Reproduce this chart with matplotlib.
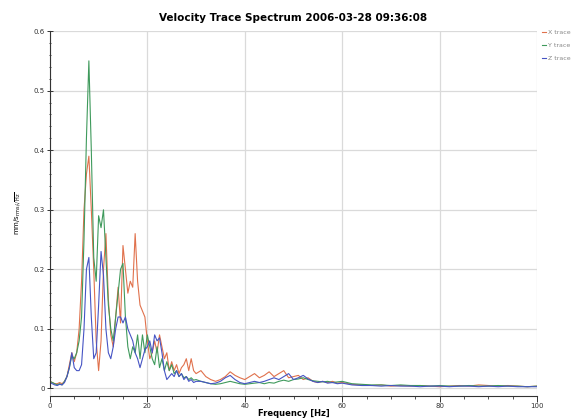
import numpy as np
import matplotlib
matplotlib.use("Agg")
import matplotlib.pyplot as plt
from matplotlib.ticker import MultipleLocator

# frequency grid (Hz)
freq = np.concatenate([np.arange(0, 30.5, 0.5), np.arange(31, 61, 1), np.arange(62, 101, 2)])

x_trace = [0.012, 0.010, 0.008, 0.008, 0.010, 0.008, 0.012, 0.020, 0.040, 0.060,
           0.045, 0.060, 0.100, 0.180, 0.300, 0.360, 0.390, 0.300, 0.200, 0.080,
           0.030, 0.080, 0.200, 0.260, 0.150, 0.090, 0.070, 0.120, 0.170, 0.110,
           0.240, 0.200, 0.160, 0.180, 0.170, 0.260, 0.180, 0.140, 0.130, 0.120,
           0.080, 0.050, 0.060, 0.080, 0.060, 0.090, 0.070, 0.050, 0.060, 0.030,
           0.045, 0.030, 0.040, 0.025, 0.035, 0.040, 0.050, 0.030, 0.050, 0.030,
           0.025,
           0.030, 0.020, 0.015, 0.012, 0.015, 0.020, 0.028, 0.022, 0.018, 0.015,
           0.020, 0.025, 0.018, 0.022, 0.028, 0.020, 0.025, 0.030, 0.018, 0.020,
           0.022, 0.015, 0.018, 0.012, 0.010, 0.012, 0.010, 0.012, 0.009, 0.010,
           0.007, 0.006, 0.005, 0.006, 0.004, 0.005, 0.004, 0.005, 0.004, 0.003,
           0.004, 0.005, 0.004, 0.006, 0.005, 0.004, 0.005, 0.004, 0.003, 0.004]

y_trace = [0.012, 0.010, 0.008, 0.006, 0.008, 0.006, 0.012, 0.020, 0.035, 0.055,
           0.050, 0.060, 0.080, 0.120, 0.250, 0.420, 0.550, 0.400, 0.220, 0.180,
           0.290, 0.270, 0.300, 0.220, 0.140, 0.100, 0.080, 0.120, 0.160, 0.200,
           0.210, 0.120, 0.070, 0.050, 0.070, 0.060, 0.090, 0.050, 0.090, 0.060,
           0.090, 0.070, 0.050, 0.040, 0.070, 0.035, 0.050, 0.030, 0.045, 0.030,
           0.040, 0.025, 0.030, 0.020, 0.025, 0.018, 0.020, 0.015, 0.018, 0.014,
           0.015,
           0.012, 0.010, 0.008, 0.007, 0.008, 0.010, 0.012, 0.010, 0.008, 0.007,
           0.008, 0.009, 0.010, 0.008, 0.010, 0.009, 0.012, 0.014, 0.012, 0.015,
           0.016, 0.018, 0.015, 0.013, 0.012, 0.011, 0.012, 0.010, 0.011, 0.012,
           0.008, 0.007, 0.006, 0.006, 0.005, 0.006, 0.005, 0.005, 0.004, 0.005,
           0.004, 0.004, 0.005, 0.004, 0.004, 0.005, 0.004, 0.004, 0.003, 0.004]

z_trace = [0.010, 0.008, 0.006, 0.005, 0.007, 0.006, 0.010, 0.020, 0.035, 0.060,
           0.035, 0.030, 0.030, 0.040, 0.100, 0.200, 0.220, 0.120, 0.050, 0.060,
           0.140, 0.230, 0.190, 0.100, 0.060, 0.050, 0.070, 0.100, 0.120, 0.120,
           0.110, 0.120, 0.100, 0.090, 0.080, 0.060, 0.050, 0.035, 0.050, 0.065,
           0.070, 0.080, 0.060, 0.090, 0.080, 0.085, 0.060, 0.030, 0.015, 0.020,
           0.025, 0.020, 0.030, 0.020, 0.025, 0.015, 0.020, 0.012, 0.015, 0.010,
           0.012,
           0.012, 0.010, 0.008, 0.009, 0.012, 0.018, 0.022, 0.015, 0.010, 0.008,
           0.010, 0.012, 0.010, 0.012, 0.015, 0.018, 0.015, 0.020, 0.025, 0.015,
           0.018, 0.022, 0.016, 0.012, 0.010, 0.012, 0.009, 0.010, 0.008, 0.009,
           0.006, 0.005, 0.005, 0.004, 0.005, 0.004, 0.004, 0.003, 0.004, 0.004,
           0.003, 0.004, 0.004, 0.003, 0.004, 0.003, 0.004, 0.003, 0.003, 0.003]

labels = ["X trace", "Y trace", "Z trace"]
colors = ["#e0714c", "#3f9a5c", "#4654c4"]
x_ticks = [0, 20, 40, 60, 80, 100]
y_ticks = [0, 0.1, 0.2, 0.3, 0.4, 0.5, 0.6]
y_ticklabels = ["0", "0.1", "0.2", "0.3", "0.4", "0.5", "0.6"]

fig = plt.figure(figsize=(5.87, 4.2), dpi=100)
ax = fig.add_axes([0.085, 0.058, 0.83, 0.868])

for vals, lab, c in zip([x_trace, y_trace, z_trace], labels, colors):
    ax.plot(freq, vals, color=c, lw=0.8, label=lab)

ax.set_xlim(0, 100)
ax.set_ylim(-0.012, 0.6)
ax.set_xticks(x_ticks)
ax.set_xticklabels([str(v) for v in x_ticks])
ax.xaxis.set_minor_locator(MultipleLocator(5))
ax.set_yticks(y_ticks)
ax.set_yticklabels(y_ticklabels)
ax.yaxis.set_minor_locator(MultipleLocator(0.02))
ax.tick_params(axis="both", which="major", labelsize=5, length=4, width=0.7,
               colors="#333333", pad=1.5)
ax.tick_params(axis="both", which="minor", length=2, width=0.6, colors="#333333")
ax.tick_params(axis="y", which="both", direction="inout")

ax.grid(True, which="major", color="#dadada", lw=0.9)
for s in ["top", "right"]:
    ax.spines[s].set_visible(False)
ax.spines["left"].set_bounds(0, 0.6)
for s in ["left", "bottom"]:
    ax.spines[s].set_color("#333333")
    ax.spines[s].set_linewidth(0.8)

ax.set_title("Velocity Trace Spectrum 2006-03-28 09:36:08", fontsize=7.5,
             fontweight="bold", pad=7)
ax.set_xlabel("Frequency [Hz]", fontsize=6, fontweight="bold", labelpad=0)
ax.set_ylabel(r"mm/s$_{\mathrm{rms}/\sqrt{\mathrm{Hz}}}$", fontsize=5, labelpad=8)

leg = ax.legend(loc="upper left", bbox_to_anchor=(1.005, 1.01), frameon=False,
                fontsize=4.5, handlelength=0.6, handletextpad=0.3, labelspacing=1.2,
                borderaxespad=0)
for t in leg.get_texts():
    t.set_color("#888888")

fig.savefig("out.png", dpi=100)
